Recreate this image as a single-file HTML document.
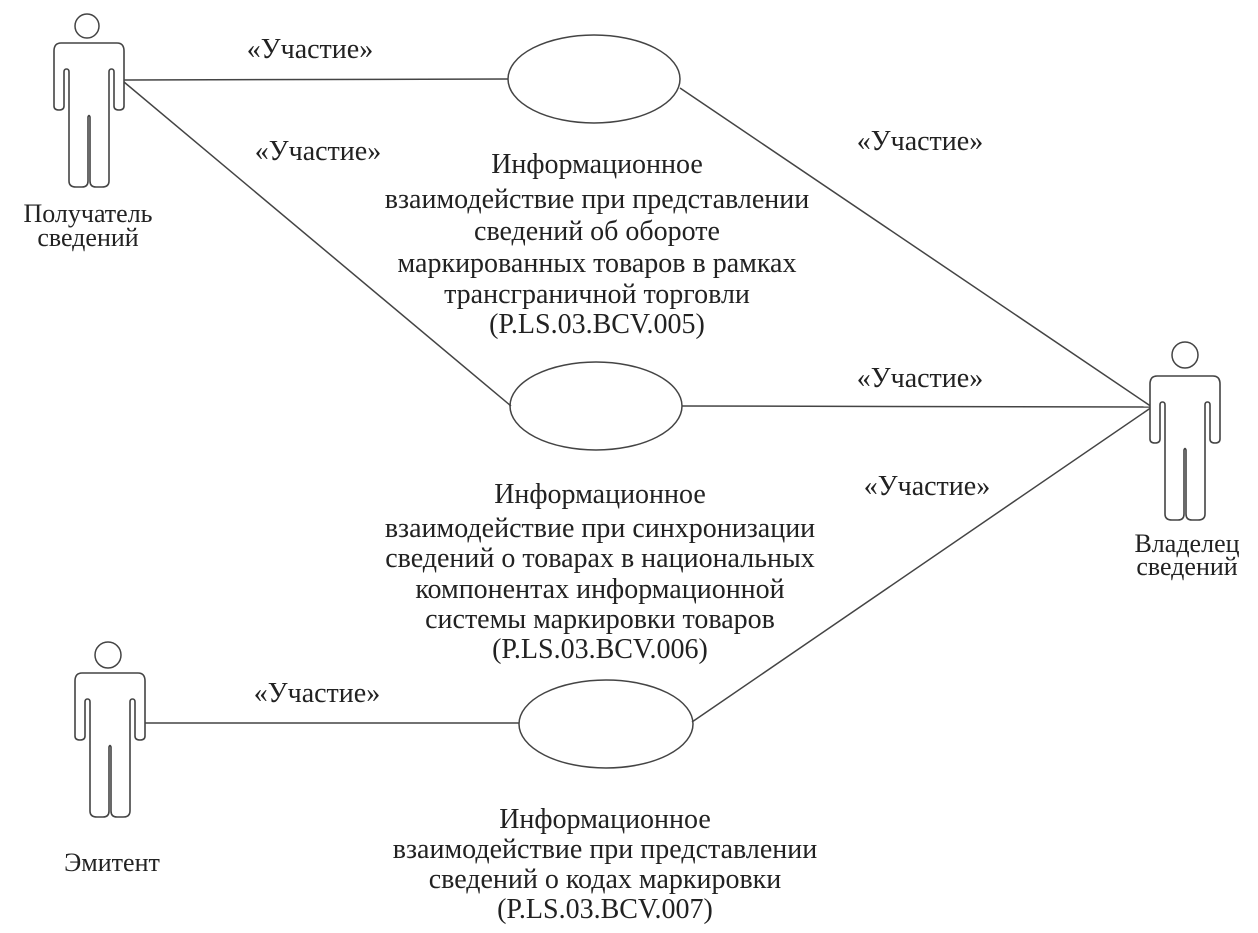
<!DOCTYPE html>
<html><head><meta charset="utf-8"><style>
html,body{margin:0;padding:0;background:#fff;width:1258px;height:933px;overflow:hidden}
svg text{font-family:"Liberation Serif",serif;fill:#222}
</style></head><body>
<svg width="1258" height="933" viewBox="0 0 1258 933" xmlns="http://www.w3.org/2000/svg">
<defs>
<path id="act" d="M -28,0 L 28,0 Q 35,0 35,8 L 35,63 Q 35,67 30,67 Q 25,67 25,63 L 25,29 Q 25,26 22.5,26 Q 20,26 20,29 L 20,138 Q 20,144 13,144 L 7,144 Q 1,144 1,138 L 1,74 Q 0,71 -1,74 L -1,138 Q -1,144 -7,144 L -13,144 Q -20,144 -20,138 L -20,29 Q -20,26 -22.5,26 Q -25,26 -25,29 L -25,63 Q -25,67 -30,67 Q -35,67 -35,63 L -35,8 Q -35,0 -28,0 Z" fill="#fff" stroke="#444" stroke-width="1.6"/>
</defs>
<g stroke="#444" stroke-width="1.5" fill="none">
<line x1="124" y1="80" x2="508" y2="79"/>
<line x1="124" y1="82" x2="511" y2="406"/>
<line x1="680" y1="88" x2="1152" y2="407"/>
<line x1="682" y1="406" x2="1152" y2="407"/>
<line x1="692" y1="722" x2="1152" y2="407"/>
<line x1="145" y1="723" x2="519" y2="723"/>
<ellipse cx="594" cy="79" rx="86" ry="44"/>
<ellipse cx="596" cy="406" rx="86" ry="44"/>
<ellipse cx="606" cy="724" rx="87" ry="44"/>
<circle cx="87" cy="26" r="12"/>
<circle cx="108" cy="655" r="13"/>
<circle cx="1185" cy="355" r="13"/>
</g>
<use href="#act" x="89" y="43"/>
<use href="#act" x="110" y="673"/>
<use href="#act" x="1185" y="376"/>
<g font-size="28" text-anchor="middle">
<text x="310" y="58">«Участие»</text>
<text x="318" y="160">«Участие»</text>
<text x="920" y="150">«Участие»</text>
<text x="920" y="387">«Участие»</text>
<text x="927" y="495">«Участие»</text>
<text x="317" y="702">«Участие»</text>
<text x="597" y="173">Информационное</text>
<text x="597" y="208">взаимодействие при представлении</text>
<text x="597" y="240">сведений об обороте</text>
<text x="597" y="272">маркированных товаров в рамках</text>
<text x="597" y="303">трансграничной торговли</text>
<text x="597" y="333">(P.LS.03.BCV.005)</text>
<text x="600" y="503">Информационное</text>
<text x="600" y="537">взаимодействие при синхронизации</text>
<text x="600" y="567">сведений о товарах в национальных</text>
<text x="600" y="598">компонентах информационной</text>
<text x="600" y="628">системы маркировки товаров</text>
<text x="600" y="658">(P.LS.03.BCV.006)</text>
<text x="605" y="828">Информационное</text>
<text x="605" y="858">взаимодействие при представлении</text>
<text x="605" y="888">сведений о кодах маркировки</text>
<text x="605" y="918">(P.LS.03.BCV.007)</text>
</g>
<g font-size="26" text-anchor="middle">
<text x="88" y="222">Получатель</text>
<text x="88" y="246">сведений</text>
<text x="1187" y="552">Владелец</text>
<text x="1187" y="575">сведений</text>
<text x="112" y="871">Эмитент</text>
</g>
</svg>
</body></html>
